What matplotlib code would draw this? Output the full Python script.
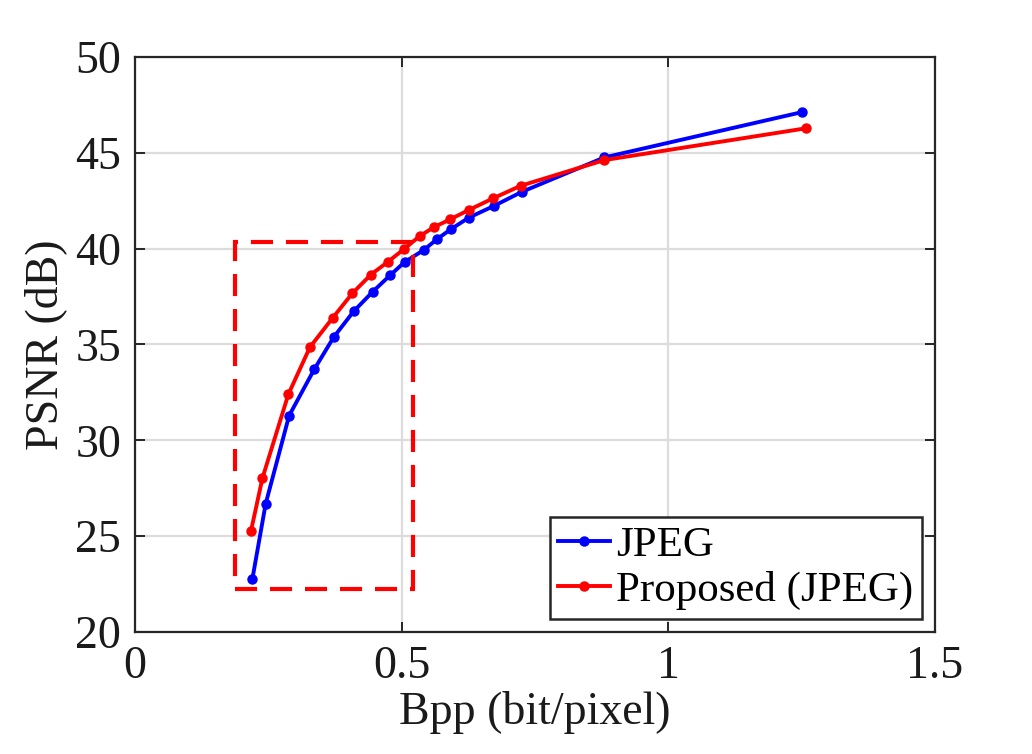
import matplotlib
matplotlib.use("Agg")
import matplotlib.pyplot as plt
from matplotlib.patches import Rectangle

jpeg_bpp = [0.220, 0.245, 0.289, 0.336, 0.3725, 0.410, 0.446, 0.479, 0.506, 0.541,
            0.566, 0.592, 0.626, 0.673, 0.725, 0.880, 1.250]
jpeg_psnr = [22.75, 26.69, 31.29, 33.70, 35.38, 36.73, 37.76, 38.63, 39.31, 39.92,
             40.49, 41.01, 41.62, 42.23, 42.96, 44.76, 47.12]
prop_bpp = [0.2175, 0.239, 0.2875, 0.328, 0.371, 0.4075, 0.4425, 0.474, 0.504, 0.534,
            0.561, 0.591, 0.626, 0.671, 0.723, 0.880, 1.258]
prop_psnr = [25.28, 28.03, 32.40, 34.86, 36.40, 37.67, 38.65, 39.31, 39.97, 40.66,
             41.13, 41.53, 42.02, 42.62, 43.28, 44.62, 46.28]
x_ticks = [0, 0.5, 1, 1.5]
x_tick_labels = ["0", "0.5", "1", "1.5"]
y_ticks = [20, 25, 30, 35, 40, 45, 50]
zoom_box = [0.188, 22.23, 0.521, 40.37]  # x0, y0, x1, y1

plt.rcParams['font.family'] = ['Liberation Serif', 'DejaVu Serif']
plt.rcParams['mathtext.fontset'] = 'stix'

fig = plt.figure(figsize=(10.32, 7.54), dpi=100)
ax = fig.add_axes([135/1032, 1 - 632/754, 800/1032, (632-57)/754])

ax.plot(jpeg_bpp, jpeg_psnr, color='#0000ff', lw=2.8, marker='o', ms=6.5, label='JPEG', zorder=3)
ax.plot(prop_bpp, prop_psnr, color='#ff0000', lw=2.8, marker='o', ms=6.5, label='Proposed (JPEG)', zorder=4)

rect = Rectangle((zoom_box[0], zoom_box[1]), zoom_box[2] - zoom_box[0], zoom_box[3] - zoom_box[1],
                 fill=False, edgecolor='#ff0000', lw=3.0, linestyle=(0, (5.3, 3.1)), zorder=5)
ax.add_patch(rect)

ax.set_xlim(0, 1.5)
ax.set_ylim(20, 50)
ax.set_xticks(x_ticks)
ax.set_xticklabels(x_tick_labels)
ax.set_yticks(y_ticks)
ax.grid(True, color='#dcdcdc', lw=1.6)
ax.set_axisbelow(True)
for s in ax.spines.values():
    s.set_linewidth(1.6)
    s.set_color('#262626')
ax.tick_params(direction='in', length=7, width=1.4, colors='#262626', labelcolor='#1a1a1a',
               labelsize=33, top=True, right=True, pad=10)
ax.set_xlabel('Bpp (bit/pixel)', fontsize=33, color='#1a1a1a', labelpad=2)
ax.set_ylabel('PSNR (dB)', fontsize=33, color='#1a1a1a', labelpad=6)

leg = ax.legend(loc='lower right', fontsize=31, frameon=True, fancybox=False, edgecolor='#262626',
                handlelength=1.2, handletextpad=0.15, borderpad=0.2, labelspacing=0.15,
                borderaxespad=0.3, framealpha=1)
leg.get_frame().set_linewidth(1.8)

fig.savefig('out.png', dpi=100)
